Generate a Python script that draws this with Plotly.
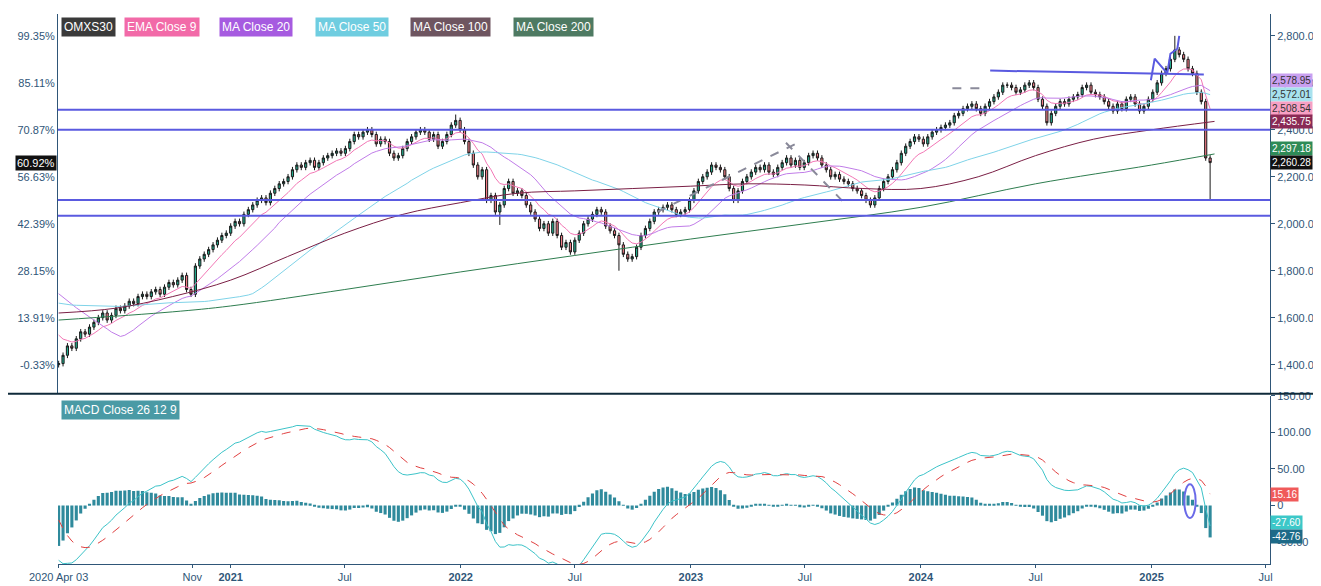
import numpy as np
import pandas as pd
import plotly.graph_objects as go

# weekly closes before the window (warm-up for the moving averages and MACD)
pre_close = [1600, 1620, 1600, 1580, 1560, 1570, 1590, 1600, 1620, 1640, 1650, 1660, 1640, 1600, 1580,
             1570, 1590, 1600, 1620, 1630, 1610, 1600, 1640, 1660, 1680, 1700, 1710, 1720, 1730, 1740,
             1750, 1760, 1770, 1780, 1790, 1800, 1810, 1820, 1830, 1840, 1850, 1870, 1880, 1860, 1780,
             1550, 1450, 1420, 1380, 1400]

close_2020 = [1404.6, 1440, 1480, 1470, 1510, 1540, 1530, 1560, 1580, 1600, 1620, 1590, 1610, 1640, 1630,
              1650, 1670, 1660, 1690, 1700, 1690, 1710, 1720, 1700, 1730, 1750, 1740, 1760, 1780, 1720,
              1700, 1820, 1850, 1870, 1890, 1910, 1930, 1950, 1960]
close_2021 = [1990, 2010, 2000, 2040, 2060, 2080, 2100, 2110, 2090, 2130, 2150, 2170, 2180,
              2200, 2230, 2250, 2240, 2260, 2270, 2240, 2260, 2280, 2290, 2300, 2310, 2300,
              2320, 2350, 2380, 2370, 2390, 2400, 2380, 2340, 2360, 2350, 2300, 2280,
              2290, 2320, 2350, 2370, 2390, 2400, 2390, 2360, 2380, 2330, 2350, 2380, 2420, 2440]
close_2022 = [2400, 2350, 2300, 2250, 2200, 2230, 2100, 2120, 2050, 2080, 2150, 2180, 2130,
              2140, 2120, 2080, 2050, 2020, 1980, 2000, 1960, 2010, 1950, 1900, 1920, 1880,
              1930, 1960, 2000, 2020, 2040, 2060, 2050, 1990, 1970, 1950, 1910, 1870, 1850,
              1860, 1900, 1950, 1980, 2010, 2050, 2060, 2070, 2080, 2060, 2040, 2050, 2060]
close_2023 = [2100, 2140, 2180, 2200, 2220, 2250, 2240, 2230, 2200, 2150, 2100, 2140, 2180,
              2200, 2220, 2240, 2230, 2250, 2220, 2210, 2240, 2260, 2280, 2250, 2270, 2240,
              2260, 2290, 2300, 2280, 2250, 2230, 2200, 2210, 2190, 2180, 2170, 2150, 2140,
              2120, 2100, 2080, 2110, 2150, 2180, 2200, 2230, 2260, 2300, 2330, 2350, 2370]
close_2024 = [2360, 2340, 2370, 2390, 2400, 2410, 2420, 2430, 2460, 2470, 2490, 2500, 2510,
              2490, 2470, 2500, 2520, 2540, 2560, 2590, 2590, 2580, 2560, 2570, 2590,
              2600, 2580, 2530, 2500, 2430, 2470, 2500, 2520, 2510, 2530, 2540, 2550, 2580,
              2590, 2560, 2550, 2540, 2520, 2500, 2480, 2510, 2490, 2530, 2540, 2510, 2480, 2500]
close_2025 = [2530, 2560, 2600, 2640, 2660, 2700, 2740, 2720, 2700, 2660, 2640, 2560, 2520, 2280, 2260.28]

# a few wick extremes (week index -> value)
high_marks = {253: 2800, 90: 2465}
low_marks = {261: 2100, 100: 1995, 127: 1800}

ma100_dates = ["2020-04-03", "2020-07-01", "2020-10-01", "2021-01-01", "2021-04-01", "2021-07-01",
               "2021-10-01", "2022-01-01", "2022-04-01", "2022-07-01", "2022-10-01", "2023-01-01",
               "2023-04-01", "2023-07-01", "2023-10-01", "2024-01-01", "2024-04-01", "2024-07-01",
               "2024-10-01", "2025-01-01", "2025-04-11"]
ma100_vals = [1620, 1640, 1690, 1760, 1860, 1960, 2040, 2090, 2130, 2140, 2150, 2160,
              2170, 2165, 2150, 2150, 2200, 2290, 2360, 2400, 2435.75]
ma200_dates = ["2020-04-03", "2020-10-01", "2021-01-01", "2021-07-01", "2022-01-01", "2022-07-01",
               "2023-01-01", "2023-07-01", "2024-01-01", "2024-07-01", "2025-01-01", "2025-04-11"]
ma200_vals = [1590, 1625, 1650, 1720, 1795, 1865, 1935, 2000, 2070, 2170, 2250, 2297.18]

h_levels = [2485, 2400, 2101, 2034]
trend_line = (["2024-04-20", "2025-03-25"], [2652, 2635])
zigzag = (["2024-12-31", "2025-01-06", "2025-01-26", "2025-01-31", "2025-02-11", "2025-02-14"],
          [2611, 2703, 2640, 2724, 2745, 2800])
gray_lines = [(["2022-11-09", "2023-06-20"], [2051, 2345]),
              (["2023-06-01", "2023-08-31"], [2345, 2093]),
              (["2024-02-20", "2024-04-16"], [2577, 2577])]

base = 1404.6
price_ticks = [1400, 1600, 1800, 2000, 2200, 2400, 2600, 2800]

closes = close_2020 + close_2021 + close_2022 + close_2023 + close_2024 + close_2025
dates = pd.date_range("2020-04-03", periods=len(closes), freq="W-FRI")
all_c = pd.Series(pre_close + closes, dtype=float)
n0 = len(pre_close)

opens = all_c.shift(1).iloc[n0:].to_numpy()
c = np.array(closes, dtype=float)
hi = np.maximum(opens, c) + 12
lo = np.minimum(opens, c) - 12
for k, v in high_marks.items():
    hi[k] = v
for k, v in low_marks.items():
    lo[k] = v

ema9 = all_c.ewm(span=9, adjust=False).mean().iloc[n0:]
ma20 = all_c.rolling(20).mean().iloc[n0:]
ma50 = all_c.rolling(50, min_periods=30).mean().iloc[n0:]
macd = (all_c.ewm(span=12, adjust=False).mean() - all_c.ewm(span=26, adjust=False).mean())
signal = macd.ewm(span=9, adjust=False).mean()
hist = (macd - signal).iloc[n0:]
macd = macd.iloc[n0:]
signal = signal.iloc[n0:]

fig = go.Figure()
fig.add_trace(go.Candlestick(x=dates, open=opens, high=hi, low=lo, close=c,
                             increasing=dict(fillcolor="#22ab8c", line=dict(color="#1a1a1a", width=1)),
                             decreasing=dict(fillcolor="#f07a85", line=dict(color="#1a1a1a", width=1)),
                             whiskerwidth=0, showlegend=False))
fig.add_trace(go.Scatter(x=dates, y=ema9, mode="lines", line=dict(color="#f277b5", width=1), showlegend=False))
fig.add_trace(go.Scatter(x=dates, y=ma20, mode="lines", line=dict(color="#c07ce8", width=1), showlegend=False))
fig.add_trace(go.Scatter(x=dates, y=ma50, mode="lines", line=dict(color="#7fd3e8", width=1), showlegend=False))
fig.add_trace(go.Scatter(x=pd.to_datetime(ma100_dates), y=ma100_vals, mode="lines",
                         line=dict(color="#7a1f45", width=1, shape="spline"), showlegend=False))
fig.add_trace(go.Scatter(x=pd.to_datetime(ma200_dates), y=ma200_vals, mode="lines",
                         line=dict(color="#2e7d4f", width=1, shape="spline"), showlegend=False))

for xs, ys in [trend_line, zigzag]:
    fig.add_trace(go.Scatter(x=pd.to_datetime(xs), y=ys, mode="lines",
                             line=dict(color="#5a5ae0", width=2), showlegend=False))
for xs, ys in gray_lines:
    fig.add_trace(go.Scatter(x=pd.to_datetime(xs), y=ys, mode="lines",
                             line=dict(color="#8a8a9a", width=2, dash="dash"), showlegend=False))
# invisible trace to activate the percent axis
fig.add_trace(go.Scatter(x=[dates[0]], y=[0], yaxis="y3", mode="markers",
                         marker=dict(opacity=0), showlegend=False, hoverinfo="skip"))

fig.add_trace(go.Bar(x=dates, y=hist, marker_color="#2f8a9c", marker_line_width=0,
                     xaxis="x2", yaxis="y2", showlegend=False))
fig.add_trace(go.Scatter(x=dates, y=macd, mode="lines", line=dict(color="#3cc3c8", width=1),
                         xaxis="x2", yaxis="y2", showlegend=False))
fig.add_trace(go.Scatter(x=dates, y=signal, mode="lines", line=dict(color="#e04040", width=1, dash="dash"),
                         xaxis="x2", yaxis="y2", showlegend=False))

for lv in h_levels:
    fig.add_shape(type="line", xref="paper", x0=0, x1=1, yref="y", y0=lv, y1=lv,
                  line=dict(color="#5a5ae0", width=2))
fig.add_shape(type="circle", xref="x2", yref="y2", x0="2025-02-22", x1="2025-03-12", y0=-17, y1=29,
              line=dict(color="#6a6ae8", width=2))

B = 30
H = 586 - B
fig.add_shape(type="line", xref="paper", yref="paper", x0=-0.05, x1=1.05, y0=1 - 384 / H, y1=1 - 384 / H,
              line=dict(color="#0f2a3a", width=2))

ylo, yhi = 1280, 2893
tickfont = dict(family="Liberation Sans", size=11, color="#2f5678")
axcol = "#2f5678"
fig.update_layout(
    width=1321, height=586, margin=dict(l=50, r=59, t=0, b=B),
    paper_bgcolor="white", plot_bgcolor="white", bargap=0.3,
    xaxis=dict(range=["2020-04-02", "2025-07-08"], showticklabels=False, showgrid=False,
               rangeslider=dict(visible=False), anchor="y", showline=False),
    xaxis2=dict(range=["2020-04-02", "2025-07-08"], matches="x", anchor="y2", showgrid=False,
                tickvals=["2020-04-03", "2020-11-01", "2021-01-01", "2021-07-01", "2022-01-01",
                          "2022-07-01", "2023-01-01", "2023-07-01", "2024-01-01", "2024-07-01",
                          "2025-01-01", "2025-07-01"],
                ticktext=["2020 Apr 03", "Nov", "<b>2021</b>", "Jul", "<b>2022</b>", "Jul", "<b>2023</b>",
                          "Jul", "<b>2024</b>", "Jul", "<b>2025</b>", "Jul"],
                ticks="outside", ticklen=3, tickcolor=axcol, tickfont=tickfont,
                showline=True, linecolor=axcol, mirror=False),
    yaxis=dict(domain=[1 - 383 / H, 1], range=[ylo, yhi], side="right", tickvals=price_ticks,
               tickformat=",.2f", showgrid=False, tickfont=tickfont, ticks="outside", ticklen=4,
               tickcolor=axcol, showline=True, linecolor=axcol),
    yaxis3=dict(overlaying="y", side="left", range=[(ylo / base - 1) * 100, (yhi / base - 1) * 100],
                tickvals=[(p / base - 1) * 100 for p in price_ticks],
                ticktext=["%.2f%%" % ((p / base - 1) * 100) for p in price_ticks],
                showgrid=False, tickfont=tickfont, showline=True, linecolor=axcol, zeroline=False),
    yaxis2=dict(domain=[0, 1 - 386 / H], range=[-80, 150], side="right", tickvals=[150, 100, 50, 0, -50],
                ticktext=["150.00", "100.00", "50.00", "0", "-50.00"], showgrid=False, zeroline=False,
                tickfont=tickfont, ticks="outside", ticklen=4, tickcolor=axcol, showline=True,
                linecolor=axcol, anchor="x2"),
)

boxfont = dict(family="Liberation Sans", size=12, color="white")
legend = [("OMXS30", "#3a3a3a"), ("EMA Close 9", "#f26aa8"), ("MA Close 20", "#a65be0"),
          ("MA Close 50", "#6fcde0"), ("MA Close 100", "#6e5560"), ("MA Close 200", "#4e7a62")]
xpos = 53
for txt, col in legend:
    fig.add_annotation(text=txt, xref="paper", yref="paper", x=(xpos - 50) / 1212, y=1 - 3 / H,
                       xanchor="left", yanchor="top", showarrow=False, bgcolor=col, font=boxfont,
                       borderpad=2)
    xpos += len(txt) * 6.6 + 23
fig.add_annotation(text="MACD Close 26 12 9", xref="paper", yref="paper", x=3 / 1212, y=1 - 390 / H,
                   xanchor="left", yanchor="top", showarrow=False, bgcolor="#4a9aa5", font=boxfont,
                   borderpad=2)

tagfont = "Liberation Sans"
right_tags = [("2,578.95", 2608, "#c9a0f0", "#333"), ("2,572.01", 2549, "#a8e2ee", "#333"),
              ("2,508.54", 2490, "#f7a0c4", "#333"), ("2,435.75", 2436, "#8a2a55", "white"),
              ("2,297.18", 2320, "#2e8b57", "white"), ("2,260.28", 2260, "#111111", "white")]
for txt, yv, bg, fc in right_tags:
    fig.add_annotation(text=txt, xref="paper", yref="y", x=1.0, y=yv, xanchor="left", showarrow=False,
                       bgcolor=bg, font=dict(family=tagfont, size=10, color=fc), borderpad=1)
macd_tags = [("15.16", 15.16, "#f05a5a"), ("-27.60", -23, "#3cc8c8"), ("-42.76", -43, "#1d6a88")]
for txt, yv, bg in macd_tags:
    fig.add_annotation(text=txt, xref="paper", yref="y2", x=1.0, y=yv, xanchor="left", showarrow=False,
                       bgcolor=bg, font=dict(family=tagfont, size=10, color="white"), borderpad=1)
fig.add_annotation(text="60.92%", xref="paper", yref="y", x=-0.001, y=2260.28, xanchor="right",
                   showarrow=False, bgcolor="#111111", font=dict(family=tagfont, size=11, color="white"),
                   borderpad=1)

fig.write_html("out.html")
